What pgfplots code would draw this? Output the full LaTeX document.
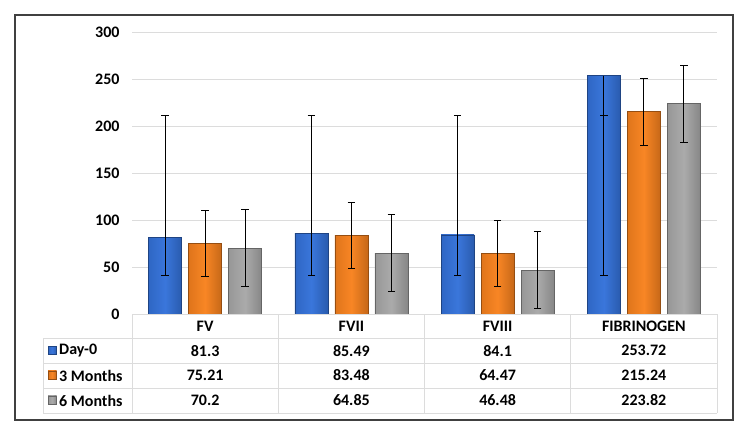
\documentclass[border=0pt]{standalone}
\usepackage{fontspec}
\setmainfont{Carlito}
\usepackage{pgfplots}
\usepackage{pgfplotstable}
\pgfplotsset{compat=1.18}

\definecolor{dayblue}{HTML}{3472DA}
\definecolor{mthorange}{HTML}{F8821E}
\definecolor{mthgray}{HTML}{A8A8A8}
\definecolor{gridgray}{HTML}{DCDCDC}
\definecolor{framegray}{HTML}{404040}

% Mean levels per factor; d0p/d0m, m3e, m6e are the error bar extents
\pgfplotstableread{
x d0     m3     m6     d0p     d0m    m3e  m6e
0 81.3   75.21  70.2   129.7   40.3   35.5 41
1 85.49  83.48  64.85  125.51  44.49  35.5 41
2 84.1   64.47  46.48  126.9   43.1   35.5 41
3 253.72 215.24 223.82 -42.72  212.72 35.5 41
}\datatable

\tikzset{
  barshade/.style={left color=#1!90!black, right color=#1!80!black, middle color=#1!97!white, draw=#1!60!black, line width=0.6pt},
  cell/.style={font=\fontsize{16}{18}\selectfont\bfseries, inner sep=0pt}
}

\begin{document}
\begin{tikzpicture}[x=1pt,y=1pt]
\useasboundingbox (0,0) rectangle (750,442);
\draw[framegray, line width=1.3pt] (15,22) rectangle (733,427);

\begin{axis}[
  at={(132pt,128pt)}, anchor=south west,
  scale only axis, width=585pt, height=282pt,
  xmin=-0.5, xmax=3.5, ymin=0, ymax=300,
  ytick={0,50,...,300}, xtick=\empty,
  ymajorgrids, grid style={gridgray, line width=0.9pt},
  axis line style={draw=none},
  ytick style={draw=none},
  yticklabel style={font=\fontsize{16}{18}\selectfont\bfseries, xshift=-9pt},
  /pgf/number format/assume math mode=true,
  ybar, bar width=33pt,
  clip=false,
  error bars/error bar style={black, line width=0.8pt},
  error bars/error mark options={rotate=90, mark size=3.7pt, line width=0.8pt, black},
]
% one plot per bar so that each bar carries its own shading
\pgfplotsinvokeforeach{0,1,2,3}{
  \addplot[barshade=dayblue, bar shift=-40pt, restrict x to domain=#1:#1,
    error bars/.cd, y dir=both, y explicit]
    table[x=x, y=d0, y error plus=d0p, y error minus=d0m] {\datatable};
  \addplot[barshade=mthorange, bar shift=0pt, restrict x to domain=#1:#1,
    error bars/.cd, y dir=both, y explicit]
    table[x=x, y=m3, y error plus=m3e, y error minus=m3e] {\datatable};
  \addplot[barshade=mthgray, bar shift=40pt, restrict x to domain=#1:#1,
    error bars/.cd, y dir=both, y explicit]
    table[x=x, y=m6, y error plus=m6e, y error minus=m6e] {\datatable};
}
\end{axis}

% data table under the bars
\begin{scope}[gridgray, line width=0.9pt]
  \draw (132,128) -- (717,128);
  \foreach \yy in {103.5,79,54,29} \draw (43,\yy) -- (717,\yy);
  \draw (43,29) -- (43,103.5);
  \foreach \xx in {132,278.25,424.5,570.75,717} \draw (\xx,29) -- (\xx,128);
\end{scope}

\foreach \name [count=\i from 0] in {FV,FVII,FVIII,FIBRINOGEN}{
  \pgfmathsetmacro{\cx}{132+146.25*(\i+0.5)}
  \node[cell] at (\cx,116) {\name};
}

\foreach \col/\yy in {d0/91.3, m3/66.5, m6/41.5}{
  \foreach \r in {0,...,3}{
    \pgfmathsetmacro{\cx}{132+146.25*(\r+0.5)}
    \pgfplotstablegetelem{\r}{\col}\of\datatable
    \node[cell] at (\cx,\yy) {\pgfplotsretval};
  }
}

% legend keys
\foreach \c/\lab/\yy in {dayblue/Day-0/91.3, mthorange/3 Months/66.5, mthgray/6 Months/41.5}{
  \path[barshade=\c, line width=0.4pt] (48,\yy-4) rectangle (56.5,\yy+4.5);
  \node[cell, anchor=west] at (59,\yy) {\lab};
}
\end{tikzpicture}
\end{document}
